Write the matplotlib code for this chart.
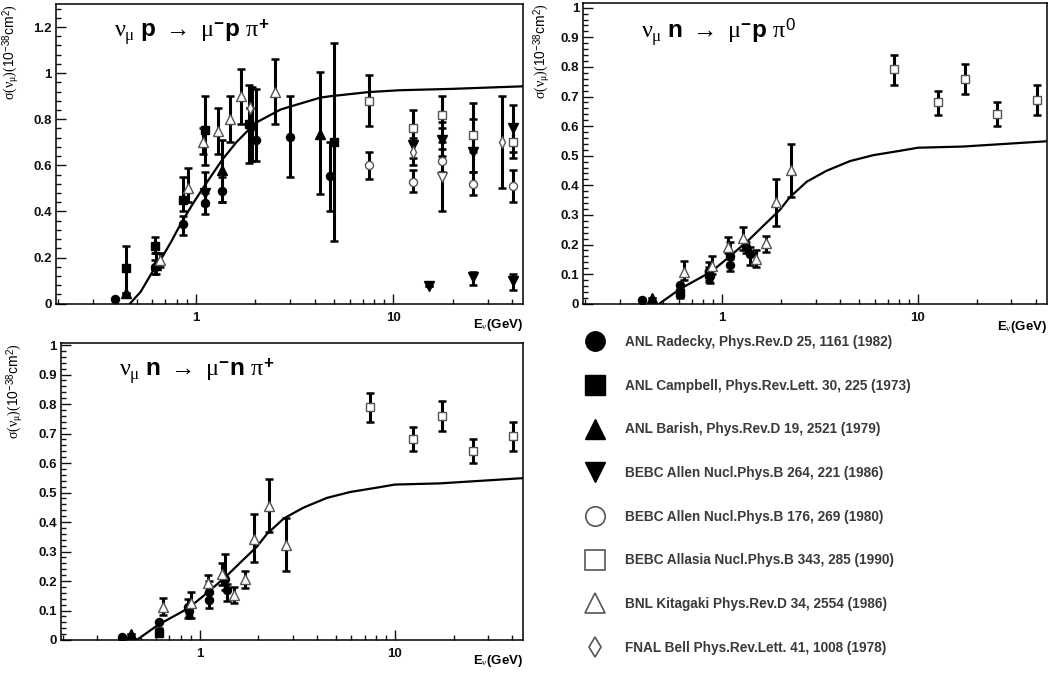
import numpy as np
import matplotlib
matplotlib.use('Agg')
import matplotlib.pyplot as plt
from matplotlib.lines import Line2D
from matplotlib.ticker import MultipleLocator, FuncFormatter, NullFormatter, LogLocator

plt.rcParams['font.family'] = ['Liberation Sans', 'DejaVu Sans']
plt.rcParams['mathtext.fontset'] = 'custom'
plt.rcParams['mathtext.rm'] = 'Liberation Serif'
plt.rcParams['mathtext.it'] = 'Liberation Serif'
plt.rcParams['mathtext.bf'] = 'Liberation Sans:bold'
plt.rcParams['mathtext.sf'] = 'Liberation Sans'

# ---- panel 1 : nu_mu p -> mu- p pi+ ----
p1_radecky_e = [0.39, 0.62, 0.86, 1.11, 1.36, 2.01, 2.98, 4.75]
p1_radecky_y = [0.02, 0.16, 0.345, 0.435, 0.49, 0.71, 0.724, 0.553]
p1_radecky_lo = [0.02, 0.13, 0.30, 0.39, 0.44, 0.62, 0.55, 0.40]
p1_radecky_hi = [0.02, 0.19, 0.38, 0.48, 0.55, 0.93, 0.90, 0.70]

p1_campbell_e = [0.44, 0.62, 0.86, 1.11, 1.85, 4.98]
p1_campbell_y = [0.153, 0.25, 0.45, 0.753, 0.78, 0.70]
p1_campbell_lo = [0.04, 0.22, 0.40, 0.60, 0.61, 0.27]
p1_campbell_hi = [0.25, 0.29, 0.55, 0.90, 0.95, 1.13]

p1_barish_e = [0.44, 0.63, 1.36, 1.93, 4.23]
p1_barish_y = [0.045, 0.17, 0.58, 0.775, 0.735]
p1_barish_lo = [0.045, 0.13, 0.44, 0.62, 0.475]
p1_barish_hi = [0.045, 0.22, 0.71, 0.94, 1.005]

p1_allen86_e = [1.11, 12.5, 15.2, 17.6, 25.2, 25.2, 40.5, 40.5]
p1_allen86_y = [0.48, 0.69, 0.077, 0.71, 0.66, 0.114, 0.76, 0.10]
p1_allen86_lo = [0.43, 0.63, 0.077, 0.64, 0.57, 0.081, 0.66, 0.06]
p1_allen86_hi = [0.57, 0.76, 0.077, 0.79, 0.80, 0.139, 0.86, 0.13]

p1_allen80_e = [7.5, 12.5, 17.6, 25.2, 40.5]
p1_allen80_y = [0.60, 0.53, 0.62, 0.52, 0.51]
p1_allen80_lo = [0.54, 0.485, 0.57, 0.47, 0.44]
p1_allen80_hi = [0.66, 0.58, 0.67, 0.57, 0.58]

p1_allasia_e = [7.5, 12.5, 17.6, 25.2, 40.5]
p1_allasia_y = [0.88, 0.76, 0.82, 0.73, 0.70]
p1_allasia_lo = [0.77, 0.70, 0.76, 0.66, 0.63]
p1_allasia_hi = [0.99, 0.84, 0.90, 0.87, 0.78]

p1_kitagaki_e = [0.66, 0.91, 1.08, 1.29, 1.48, 1.69, 2.50]
p1_kitagaki_y = [0.19, 0.50, 0.70, 0.75, 0.80, 0.90, 0.92]
p1_kitagaki_lo = [0.16, 0.44, 0.65, 0.65, 0.70, 0.78, 0.78]
p1_kitagaki_hi = [0.22, 0.59, 0.76, 0.85, 0.90, 1.02, 1.06]

p1_bell_e = [1.88, 12.5, 35.4]
p1_bell_y = [0.85, 0.66, 0.70]
p1_bell_lo = [0.85, 0.60, 0.50]
p1_bell_hi = [0.85, 0.72, 0.90]

p1_openv_e = [17.6]
p1_openv_y = [0.55]
p1_openv_lo = [0.40]
p1_openv_hi = [0.70]

curve_p_e = [0.463, 0.525, 0.613, 0.662, 0.75, 0.80, 0.869, 0.97, 1.11, 1.36, 1.6, 2.0,
             2.68, 3.0, 4.27, 4.8, 7.5, 10.8, 20, 45.5]
curve_p_y = [0.0, 0.052, 0.15, 0.19, 0.27, 0.315, 0.37, 0.437, 0.514, 0.625, 0.70, 0.784,
             0.842, 0.855, 0.894, 0.90, 0.918, 0.926, 0.932, 0.943]

# ---- panel 2 : nu_mu n -> mu- p pi0 ----
p2_radecky_e = [0.39, 0.61, 0.86, 0.87, 1.10, 1.10, 1.33, 1.38]
p2_radecky_y = [0.011, 0.062, 0.112, 0.094, 0.16, 0.131, 0.19, 0.168]
p2_radecky_lo = [0.011, 0.062, 0.08, 0.07, 0.13, 0.11, 0.17, 0.131]
p2_radecky_hi = [0.011, 0.062, 0.14, 0.12, 0.21, 0.15, 0.21, 0.193]

p2_campbell_e = [0.61, 0.86]
p2_campbell_y = [0.035, 0.10]
p2_campbell_lo = [0.02, 0.075]
p2_campbell_hi = [0.05, 0.125]

p2_barish_e = [0.44]
p2_barish_y = [0.02]
p2_barish_lo = [0.02]
p2_barish_hi = [0.02]

p2_kitagaki_e = [0.636, 0.89, 1.07, 1.28, 1.48, 1.68, 1.89, 2.24]
p2_kitagaki_y = [0.108, 0.128, 0.193, 0.221, 0.150, 0.204, 0.342, 0.453]
p2_kitagaki_lo = [0.08, 0.10, 0.17, 0.18, 0.125, 0.173, 0.263, 0.36]
p2_kitagaki_hi = [0.145, 0.161, 0.225, 0.26, 0.18, 0.229, 0.42, 0.54]

p2_allasia_e = [7.53, 12.6, 17.5, 25.4, 40.7]
p2_allasia_y = [0.792, 0.681, 0.760, 0.641, 0.689]
p2_allasia_lo = [0.739, 0.639, 0.709, 0.60, 0.639]
p2_allasia_hi = [0.84, 0.719, 0.809, 0.681, 0.739]

# ---- panel 3 : nu_mu n -> mu- n pi+ ----
p3_radecky_e = [0.40, 0.62, 0.87, 0.88, 1.12, 1.12, 1.35, 1.38]
p3_radecky_y = [0.011, 0.062, 0.113, 0.10, 0.164, 0.136, 0.207, 0.168]
p3_radecky_lo = [0.011, 0.062, 0.074, 0.08, 0.14, 0.107, 0.17, 0.132]
p3_radecky_hi = [0.011, 0.062, 0.14, 0.12, 0.20, 0.16, 0.29, 0.19]

p3_campbell_e = [0.62]
p3_campbell_y = [0.025]
p3_campbell_lo = [0.015]
p3_campbell_hi = [0.04]

p3_barish_e = [0.447]
p3_barish_y = [0.02]
p3_barish_lo = [0.02]
p3_barish_hi = [0.02]

p3_kitagaki_e = [0.647, 0.906, 1.10, 1.30, 1.51, 1.71, 1.91, 2.27, 2.77]
p3_kitagaki_y = [0.113, 0.127, 0.192, 0.224, 0.153, 0.206, 0.342, 0.454, 0.322]
p3_kitagaki_lo = [0.085, 0.074, 0.16, 0.186, 0.124, 0.175, 0.265, 0.367, 0.235]
p3_kitagaki_hi = [0.143, 0.164, 0.22, 0.262, 0.181, 0.234, 0.426, 0.545, 0.415]

p3_allasia_e = [7.48, 12.4, 17.5, 25.2, 40.3]
p3_allasia_y = [0.789, 0.680, 0.761, 0.641, 0.69]
p3_allasia_lo = [0.74, 0.64, 0.708, 0.60, 0.64]
p3_allasia_hi = [0.839, 0.721, 0.809, 0.682, 0.74]

curve_n_e = [0.477, 0.55, 0.616, 0.75, 0.878, 1.09, 1.38, 1.65, 1.97, 2.21, 2.7, 3.41,
             4.5, 5.93, 8, 10, 17, 25, 45.9]
curve_n_y = [0.0, 0.029, 0.052, 0.083, 0.108, 0.159, 0.218, 0.268, 0.317, 0.359, 0.412,
             0.449, 0.482, 0.502, 0.516, 0.527, 0.531, 0.538, 0.549]

legend_labels = ['ANL Radecky, Phys.Rev.D 25, 1161 (1982)',
                 'ANL Campbell, Phys.Rev.Lett. 30, 225 (1973)',
                 'ANL Barish, Phys.Rev.D 19, 2521 (1979)',
                 'BEBC Allen Nucl.Phys.B 264, 221 (1986)',
                 'BEBC Allen Nucl.Phys.B 176, 269 (1980)',
                 'BEBC Allasia Nucl.Phys.B 343, 285 (1990)',
                 'BNL Kitagaki Phys.Rev.D 34, 2554 (1986)',
                 'FNAL Bell Phys.Rev.Lett. 41, 1008 (1978)']

# marker styles: (marker, filled)
styles = {
    'radecky': ('o', True), 'campbell': ('s', True), 'barish': ('^', True),
    'allen86': ('v', True), 'allen80': ('o', False), 'allasia': ('s', False),
    'kitagaki': ('^', False), 'bell': ('d', False), 'openv': ('v', False),
}
edge_gray = '#555555'


def draw_series(ax, key, e, y, lo, hi):
    e = np.array(e)
    y = np.array(y)
    lo = np.array(lo)
    hi = np.array(hi)
    ax.errorbar(e, y, yerr=[y - lo, hi - y], fmt='none', ecolor='black',
                elinewidth=2.2, capsize=2.8, capthick=1.8, zorder=2)
    m, filled = styles[key]
    ms = 6.5 if m in '^v' else 5.8
    if filled:
        ax.plot(e, y, m, ms=ms, color='black', zorder=3)
    else:
        ax.plot(e, y, m, ms=ms, mfc='white', mec=edge_gray, mew=1.0, zorder=3)


def style_axes(ax, ymax, ymajor, title):
    ax.set_xscale('log')
    ax.set_xlim(0.195, 45.5)
    ax.set_ylim(0, ymax)
    ax.xaxis.set_major_locator(LogLocator(base=10))
    ax.xaxis.set_minor_locator(LogLocator(base=10, subs=np.arange(2, 10)))
    ax.xaxis.set_major_formatter(FuncFormatter(lambda v, p: f'{v:g}'))
    ax.xaxis.set_minor_formatter(NullFormatter())
    ax.yaxis.set_major_locator(MultipleLocator(ymajor))
    ax.yaxis.set_minor_locator(MultipleLocator(ymajor / 5))
    ax.yaxis.set_major_formatter(FuncFormatter(lambda v, p: f'{v:g}'))
    ax.tick_params(which='both', direction='in', top=False, right=False,
                   width=1.0, labelsize=9.5, colors='#111111')
    ax.tick_params(axis='y', which='major', length=7, pad=3)
    ax.tick_params(axis='y', which='minor', length=3.5)
    ax.tick_params(axis='x', which='major', length=7, pad=6)
    ax.tick_params(axis='x', which='minor', length=3.5)
    for lab in ax.get_xticklabels() + ax.get_yticklabels():
        lab.set_fontweight('bold')
    for sp in ax.spines.values():
        sp.set_linewidth(1.1)
    ax.set_ylabel(r'$\sigma(\nu_{\mu})(\mathsf{10}^{\mathsf{-38}}\mathsf{cm}^{\mathsf{2}})$',
                  fontsize=10, loc='top')
    ax.set_xlabel(r'$\mathbf{E}_{\nu}\mathbf{(GeV)}$', fontsize=9.5, loc='right')
    ax.text(0.125, 0.955, title, transform=ax.transAxes, fontsize=17.5, va='top', ha='left')


fig = plt.figure(figsize=(10.48, 6.75), dpi=100)
W, H = 1048.0, 675.0

ax1 = fig.add_axes([55.8 / W, 1 - 303.7 / H, (523.3 - 55.8) / W, (303.7 - 4) / H])
ax2 = fig.add_axes([583.3 / W, 1 - 303.7 / H, (1046.7 - 583.3) / W, (303.7 - 3.3) / H])
ax3 = fig.add_axes([60.9 / W, 1 - 640 / H, (523.3 - 60.9) / W, (640 - 342.7) / H])

# panel 1
ax1.plot(curve_p_e, curve_p_y, color='black', lw=1.6, zorder=1)
draw_series(ax1, 'radecky', p1_radecky_e, p1_radecky_y, p1_radecky_lo, p1_radecky_hi)
draw_series(ax1, 'campbell', p1_campbell_e, p1_campbell_y, p1_campbell_lo, p1_campbell_hi)
draw_series(ax1, 'barish', p1_barish_e, p1_barish_y, p1_barish_lo, p1_barish_hi)
draw_series(ax1, 'allen86', p1_allen86_e, p1_allen86_y, p1_allen86_lo, p1_allen86_hi)
draw_series(ax1, 'allen80', p1_allen80_e, p1_allen80_y, p1_allen80_lo, p1_allen80_hi)
draw_series(ax1, 'allasia', p1_allasia_e, p1_allasia_y, p1_allasia_lo, p1_allasia_hi)
draw_series(ax1, 'kitagaki', p1_kitagaki_e, p1_kitagaki_y, p1_kitagaki_lo, p1_kitagaki_hi)
draw_series(ax1, 'bell', p1_bell_e, p1_bell_y, p1_bell_lo, p1_bell_hi)
draw_series(ax1, 'openv', p1_openv_e, p1_openv_y, p1_openv_lo, p1_openv_hi)
style_axes(ax1, 1.3, 0.2, r'$\nu_{\mu}\ \mathbf{p}\ \rightarrow\ \mu^{\mathbf{-}}\mathbf{p}\ \pi^{\mathbf{+}}$')

# panel 2
ax2.plot(curve_n_e, curve_n_y, color='black', lw=1.6, zorder=1)
draw_series(ax2, 'radecky', p2_radecky_e, p2_radecky_y, p2_radecky_lo, p2_radecky_hi)
draw_series(ax2, 'campbell', p2_campbell_e, p2_campbell_y, p2_campbell_lo, p2_campbell_hi)
draw_series(ax2, 'barish', p2_barish_e, p2_barish_y, p2_barish_lo, p2_barish_hi)
draw_series(ax2, 'kitagaki', p2_kitagaki_e, p2_kitagaki_y, p2_kitagaki_lo, p2_kitagaki_hi)
draw_series(ax2, 'allasia', p2_allasia_e, p2_allasia_y, p2_allasia_lo, p2_allasia_hi)
style_axes(ax2, 1.015, 0.1, r'$\nu_{\mu}\ \mathbf{n}\ \rightarrow\ \mu^{\mathbf{-}}\mathbf{p}\ \pi^{\mathsf{0}}$')

# panel 3
ax3.plot(curve_n_e, curve_n_y, color='black', lw=1.6, zorder=1)
draw_series(ax3, 'radecky', p3_radecky_e, p3_radecky_y, p3_radecky_lo, p3_radecky_hi)
draw_series(ax3, 'campbell', p3_campbell_e, p3_campbell_y, p3_campbell_lo, p3_campbell_hi)
draw_series(ax3, 'barish', p3_barish_e, p3_barish_y, p3_barish_lo, p3_barish_hi)
draw_series(ax3, 'kitagaki', p3_kitagaki_e, p3_kitagaki_y, p3_kitagaki_lo, p3_kitagaki_hi)
draw_series(ax3, 'allasia', p3_allasia_e, p3_allasia_y, p3_allasia_lo, p3_allasia_hi)
style_axes(ax3, 1.008, 0.1, r'$\nu_{\mu}\ \mathbf{n}\ \rightarrow\ \mu^{\mathbf{-}}\mathbf{n}\ \pi^{\mathbf{+}}$')

# axis label positions (ROOT style: y title at top, x title below right end)
ax1.yaxis.set_label_coords(-0.072, 1.0)
ax2.yaxis.set_label_coords(-0.066, 1.0)
ax3.yaxis.set_label_coords(-0.075, 1.0)
ax1.xaxis.set_label_coords(1.0, -0.045)
ax2.xaxis.set_label_coords(1.0, -0.05)
ax3.xaxis.set_label_coords(1.0, -0.045)

# legend in the lower right quadrant
handles = []
for key in ['radecky', 'campbell', 'barish', 'allen86', 'allen80', 'allasia', 'kitagaki', 'bell']:
    m, filled = styles[key]
    ms = 10 if m == 'd' else 14
    if filled:
        handles.append(Line2D([], [], ls='none', marker=m, ms=ms, color='black'))
    else:
        handles.append(Line2D([], [], ls='none', marker=m, ms=ms, mfc='white',
                              mec=edge_gray, mew=1.2))
fig.legend(handles, legend_labels, loc='upper left', bbox_to_anchor=(584 / W, 1 - 335 / H),
           frameon=False, numpoints=1, handlelength=1.55, handletextpad=1.45,
           labelspacing=2.18, borderpad=0, borderaxespad=0,
           prop={'family': 'Liberation Sans', 'weight': 'bold', 'size': 9.8},
           labelcolor='#3a3a3a')

fig.savefig('out.png', dpi=100)
